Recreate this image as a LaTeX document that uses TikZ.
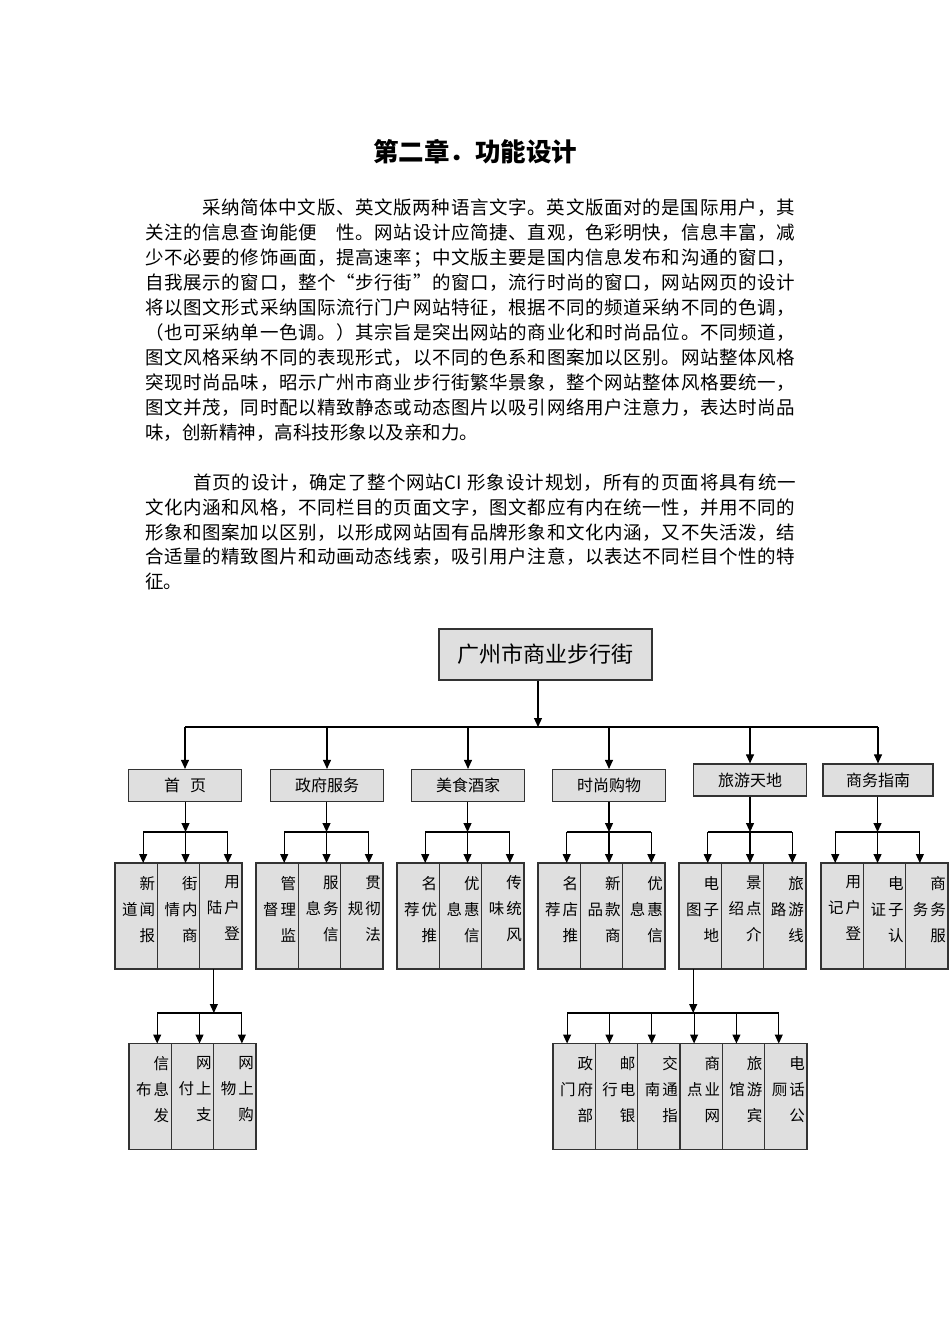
\documentclass[tikz,border=0pt]{standalone}
\usepackage{fontspec}
\setmainfont{Noto Sans CJK SC}
\usetikzlibrary{arrows.meta,positioning}

% stretchable glue between CJK characters, so that lines can be justified
\XeTeXinterchartokenstate=1
\newXeTeXintercharclass\hanclass
\newcount\hancnt
\hancnt="3000
\loop \XeTeXcharclass\hancnt=\hanclass \advance\hancnt by 1 \ifnum\hancnt<"A000 \repeat
\hancnt="FF00
\loop \XeTeXcharclass\hancnt=\hanclass \advance\hancnt by 1 \ifnum\hancnt<"FFF0 \repeat
\XeTeXcharclass"201C=\hanclass
\XeTeXcharclass"201D=\hanclass
\XeTeXinterchartoks\hanclass\hanclass={\hskip0pt plus 1pt\relax}

\newcommand{\jline}[2]{\makebox[#1pt][s]{#2}}
\newcommand{\tri}[3]{\parbox[c][80pt][t]{38pt}{\raggedleft
  \XeTeXinterchartoks\hanclass\hanclass={\hskip2pt\relax}#1\\#2\\#3}}

\begin{document}
\begin{tikzpicture}[x=1pt, y=-1pt,
  txt/.style={anchor=west, inner sep=0pt, font=\fontsize{18.5}{20}\selectfont},
  cat/.style={draw=black!80, line width=1.2pt, fill=gray!25, minimum width=113pt, minimum height=32pt, inner sep=0pt, font=\fontsize{16}{18}\selectfont},
  leaf/.style={draw=black!80, line width=1.2pt, fill=gray!25, minimum width=42.33pt, minimum height=106pt, inner sep=0pt, outer sep=0pt, font=\fontsize{15.5}{26}\selectfont},
  arr/.style={-{Triangle[length=9pt,width=8pt]}, line width=1.1pt},
  bar/.style={line width=1.1pt}]
\useasboundingbox (0,0) rectangle (950,1344);
\fill[white] (0,0) rectangle (950,1344);

\node[font=\fontsize{25.5}{28}\selectfont\bfseries] (title) at (475,152) {第二章．功能设计};

% first paragraph
\node[txt] (pa1) at (202,208) {\jline{593}{采纳简体中文版、英文版两种语言文字。英文版面对的是国际用户，其}};
\node[txt] (pa2) at (145,233) {\jline{650}{关注的信息查询能便　性。网站设计应简捷、直观，色彩明快，信息丰富，减}};
\node[txt] (pa3) at (145,258) {\jline{650}{少不必要的修饰画面，提高速率；中文版主要是国内信息发布和沟通的窗口，}};
\node[txt] (pa4) at (145,283) {\jline{650}{自我展示的窗口，整个“步行街”的窗口，流行时尚的窗口，网站网页的设计}};
\node[txt] (pa5) at (145,308) {\jline{650}{将以图文形式采纳国际流行门户网站特征，根据不同的频道采纳不同的色调，}};
\node[txt] (pa6) at (145,333) {\jline{650}{（也可采纳单一色调。）其宗旨是突出网站的商业化和时尚品位。不同频道，}};
\node[txt] (pa7) at (145,358) {\jline{650}{图文风格采纳不同的表现形式，以不同的色系和图案加以区别。网站整体风格}};
\node[txt] (pa8) at (145,383) {\jline{650}{突现时尚品味，昭示广州市商业步行街繁华景象，整个网站整体风格要统一，}};
\node[txt] (pa9) at (145,408) {\jline{650}{图文并茂，同时配以精致静态或动态图片以吸引网络用户注意力，表达时尚品}};
\node[txt] (pa10) at (145,433) {味，创新精神，高科技形象以及亲和力。};

% second paragraph
\node[txt] (pb1) at (193,483) {\jline{603}{首页的设计，确定了整个网站CI 形象设计规划，所有的页面将具有统一}};
\node[txt] (pb2) at (145,508) {\jline{650}{文化内涵和风格，不同栏目的页面文字，图文都应有内在统一性，并用不同的}};
\node[txt] (pb3) at (145,533) {\jline{650}{形象和图案加以区别，以形成网站固有品牌形象和文化内涵，又不失活泼，结}};
\node[txt] (pb4) at (145,557) {\jline{650}{合适量的精致图片和动画动态线索，吸引用户注意，以表达不同栏目个性的特}};
\node[txt] (pb5) at (145,581) {征。};

% site tree
\node[cat, minimum width=213pt, minimum height=51pt, font=\fontsize{22}{24}\selectfont] (street) at (545.5,654.5) {广州市商业步行街};
\coordinate (bus) at (538,727);

\node[cat] (home) at (185,785.5) {首\hspace{10pt}页};
\node[cat] (gov) at (327,785.5) {政府服务};
\node[cat] (food) at (468,785.5) {美食酒家};
\node[cat] (shop) at (609,785.5) {时尚购物};
\node[cat] (tour) at (750,780) {旅游天地};
\node[cat, minimum width=110pt] (biz) at (878,780) {商务指南};

\draw[arr] (street.south -| bus) -- (bus);
\draw[bar] (home.north |- bus) -- (biz.north |- bus);
\foreach \g in {home,gov,food,shop,tour,biz}
  \draw[arr] (\g.north |- bus) -- (\g.north);

\node[leaf] (home1) at (136.2,916) {\tri{新}{道闻}{报}};
\node[leaf, right=0pt of home1] (home2) {\tri{街}{情内}{商}};
\node[leaf, right=0pt of home2] (home3) {\tri{用}{陆户}{登}};

\node[leaf] (gov1) at (277.2,916) {\tri{管}{督理}{监}};
\node[leaf, right=0pt of gov1] (gov2) {\tri{服}{息务}{信}};
\node[leaf, right=0pt of gov2] (gov3) {\tri{贯}{规彻}{法}};

\node[leaf] (food1) at (418.2,916) {\tri{名}{荐优}{推}};
\node[leaf, right=0pt of food1] (food2) {\tri{优}{息惠}{信}};
\node[leaf, right=0pt of food2] (food3) {\tri{传}{味统}{风}};

\node[leaf] (shop1) at (559.2,916) {\tri{名}{荐店}{推}};
\node[leaf, right=0pt of shop1] (shop2) {\tri{新}{品款}{商}};
\node[leaf, right=0pt of shop2] (shop3) {\tri{优}{息惠}{信}};

\node[leaf] (tour1) at (700.2,916) {\tri{电}{图子}{地}};
\node[leaf, right=0pt of tour1] (tour2) {\tri{景}{绍点}{介}};
\node[leaf, right=0pt of tour2] (tour3) {\tri{旅}{路游}{线}};

\node[leaf] (biz1) at (842.2,916) {\tri{用}{记户}{登}};
\node[leaf, right=0pt of biz1] (biz2) {\tri{电}{证子}{认}};
\node[leaf, right=0pt of biz2] (biz3) {\tri{商}{务务}{服}};

\foreach \g/\dx in {home/7pt,gov/7pt,food/7pt,shop/7.5pt,tour/7.5pt,biz/-7pt}{
  \coordinate (\g bus) at ([xshift=\dx]\g2.north |- 0,832);
  \draw[arr] (\g.south -| \g bus) -- (\g bus);
  \draw[bar] ([xshift=\dx]\g1.north |- \g bus) -- ([xshift=\dx]\g3.north |- \g bus);
  \foreach \n in {1,2,3}
    \draw[arr] ([xshift=\dx]\g\n.north |- \g bus) -- ([xshift=\dx]\g\n.north);
}

% third level
\node[leaf] (pay1) at (150.2,1096.5) {\tri{信}{布息}{发}};
\node[leaf, right=0pt of pay1] (pay2) {\tri{网}{付上}{支}};
\node[leaf, right=0pt of pay2] (pay3) {\tri{网}{物上}{购}};

\node[leaf] (map1) at (574.1,1096.5) {\tri{政}{门府}{部}};
\node[leaf, right=0pt of map1] (map2) {\tri{邮}{行电}{银}};
\node[leaf, right=0pt of map2] (map3) {\tri{交}{南通}{指}};
\node[leaf, right=0pt of map3] (map4) {\tri{商}{点业}{网}};
\node[leaf, right=0pt of map4] (map5) {\tri{旅}{馆游}{宾}};
\node[leaf, right=0pt of map5] (map6) {\tri{电}{厕话}{公}};

\coordinate (paybus) at ([xshift=-7pt]home3.south |- 0,1013);
\draw[arr] ([xshift=-7pt]home3.south) -- (paybus);
\draw[bar] ([xshift=7pt]pay1.north |- paybus) -- ([xshift=7pt]pay3.north |- paybus);
\foreach \n in {1,2,3}
  \draw[arr] ([xshift=7pt]pay\n.north |- paybus) -- ([xshift=7pt]pay\n.north);

\coordinate (mapbus) at ([xshift=-7pt]tour1.south |- 0,1013);
\draw[arr] ([xshift=-7pt]tour1.south) -- (mapbus);
\draw[bar] ([xshift=-7pt]map1.north |- mapbus) -- ([xshift=-7pt]map6.north |- mapbus);
\foreach \n in {1,...,6}
  \draw[arr] ([xshift=-7pt]map\n.north |- mapbus) -- ([xshift=-7pt]map\n.north);
\end{tikzpicture}
\end{document}
